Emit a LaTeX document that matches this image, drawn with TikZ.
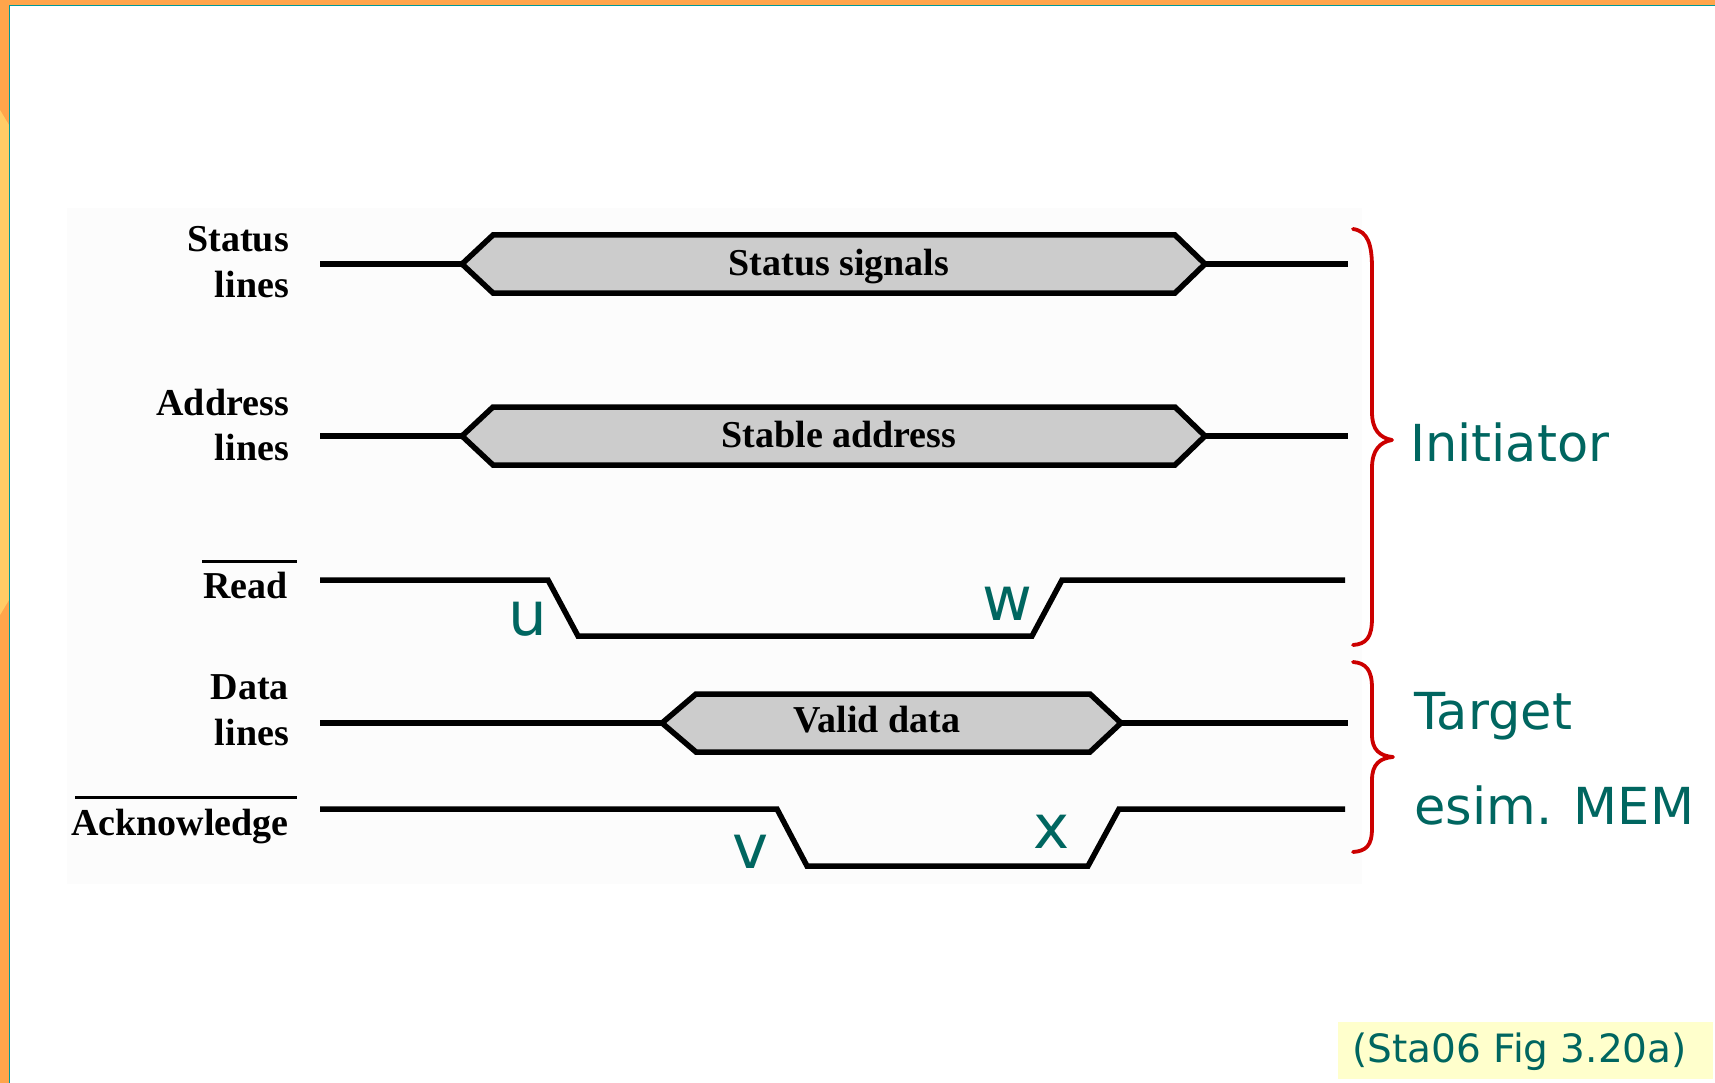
\documentclass[tikz,border=0pt]{standalone}
\usepackage{fontspec}
\newfontfamily\tnr{Liberation Serif}
\newfontfamily\dvs{DejaVu Sans}
\definecolor{tealtxt}{RGB}{0,102,96}
\definecolor{tealline}{RGB}{0,153,153}
\definecolor{orangeb}{RGB}{255,165,75}
\definecolor{yellowb}{RGB}{255,204,102}
\definecolor{hexgray}{RGB}{204,204,204}
\definecolor{bracered}{RGB}{204,0,0}
\definecolor{notebg}{RGB}{255,255,204}
\begin{document}
\begin{tikzpicture}[x=1pt,y=-1pt,
  sig/.style={line width=5.5pt, line join=miter, black},
  hexsig/.style={sig, fill=hexgray},
  lbl/.style={anchor=base east, inner sep=0pt, font=\tnr\bfseries\fontsize{38}{45}\selectfont},
  hexlbl/.style={anchor=base, inner sep=0pt, font=\tnr\bfseries\fontsize{38}{45}\selectfont},
  ovl/.style={line width=3pt, black},
  evt/.style={anchor=center, inner sep=0pt, text=tealtxt, font=\dvs\fontsize{61}{70}\selectfont},
  side/.style={anchor=base west, inner sep=0pt, text=tealtxt, font=\dvs\fontsize{51}{60}\selectfont},
  bracestyle/.style={line width=3.8pt, bracered, line cap=round, line join=round}]
\useasboundingbox (0,0) rectangle (1715,1083);
% slide background
\fill[orangeb] (0,0) rectangle (1715,1083);
\fill[yellowb] (0,110) -- (9,125) -- (9,600) -- (0,615) -- cycle;
\fill[white] (9,5) rectangle (1715,1083);
\draw[tealline, line width=1.5pt] (9.5,1083) -- (9.5,5.5) -- (1715,5.5);
% figure panel
\fill[gray!2] (67,208) rectangle (1362,884);
% Status lines
\filldraw[hexsig] (462,264) -- (493,235) -- (1175,235) -- (1205,264) -- (1175,293) -- (493,293) -- cycle;
\draw[sig] (320,264) -- (462,264);
\draw[sig] (1205,264) -- (1348,264);
\node[hexlbl] (stsig) at (839,276) {Status signals};
\node[lbl] (st1) at (289,252) {Status};
\node[lbl] (st2) at (289,297) {lines};
% Address lines
\filldraw[hexsig] (462,436) -- (493,407) -- (1175,407) -- (1205,436) -- (1175,465) -- (493,465) -- cycle;
\draw[sig] (320,436) -- (462,436);
\draw[sig] (1205,436) -- (1348,436);
\node[hexlbl] (stadr) at (839,447) {Stable address};
\node[lbl] (ad1) at (289,415) {Address};
\node[lbl] (ad2) at (289,460) {lines};
% Read
\draw[sig] (320,580) -- (548,580) -- (578,636) -- (1032,636) -- (1062,580) -- (1345,580);
\node[lbl] (rd) at (288,598) {Read};
\draw[ovl] (202,561) -- (297,561);
\node[evt] (u) at (528,619) {u};
\node[evt] (w) at (1007,604) {w};
% Data lines
\filldraw[hexsig] (662,723) -- (696,694) -- (1090,694) -- (1121,723) -- (1090,752) -- (696,752) -- cycle;
\draw[sig] (320,723) -- (662,723);
\draw[sig] (1121,723) -- (1348,723);
\node[hexlbl] (vdata) at (877,732) {Valid data};
\node[lbl] (dt1) at (289,699) {Data};
\node[lbl] (dt2) at (289,745) {lines};
% Acknowledge
\draw[sig] (320,809) -- (777,809) -- (807,866) -- (1088,866) -- (1119,809) -- (1345,809);
\node[lbl] (ack) at (289,835) {Acknowledge};
\draw[ovl] (75,797) -- (297,797);
\node[evt] (v) at (751,852) {v};
\node[evt] (x) at (1052,832) {x};
% braces
\draw[bracestyle] (1353,229) .. controls (1368,231) and (1372,245) .. (1372,268) -- (1372,412)
  .. controls (1372,430) and (1380,438) .. (1392,440)
  .. controls (1380,442) and (1372,450) .. (1372,468) -- (1372,618)
  .. controls (1372,638) and (1366,644) .. (1353,645);
\draw[bracestyle] (1353,662) .. controls (1366,663) and (1372,670) .. (1372,688) -- (1372,735)
  .. controls (1372,750) and (1380,756) .. (1393,757)
  .. controls (1380,758) and (1372,764) .. (1372,780) -- (1372,828)
  .. controls (1372,846) and (1366,851) .. (1353,852);
\node[side] (init) at (1410,461) {Initiator};
\node[side] (targ) at (1414,729) {Target};
\node[side] (mem) at (1414,824) {esim. MEM};
% source note
\fill[notebg] (1338,1022) rectangle (1713,1079);
\node[anchor=base west, inner sep=0pt, text=tealtxt, font=\dvs\fontsize{39}{45}\selectfont] (src) at (1352,1062) {(Sta06 Fig 3.20a)};
\end{tikzpicture}
\end{document}
